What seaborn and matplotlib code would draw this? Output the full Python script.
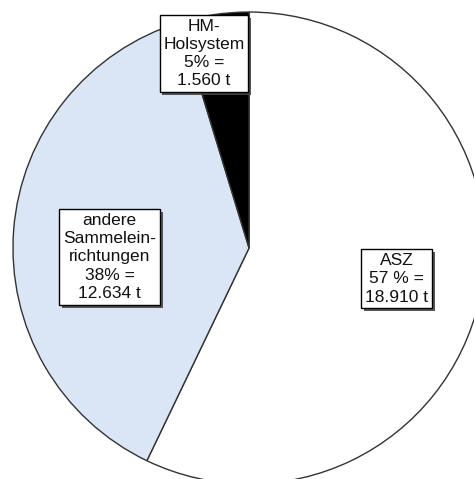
import matplotlib
matplotlib.use("Agg")
import matplotlib.pyplot as plt
import matplotlib.patheffects as pe
import seaborn as sns

# -----------------------------
# Data (tonnes)
# -----------------------------
categories = ["ASZ", "andere Sammeleinrichtungen", "HM-Holsystem"]
tonnes = [18910, 12634, 1560]
labels = ["ASZ\n57 % =\n18.910 t",
          "andere\nSammelein-\nrichtungen\n38% =\n12.634 t",
          "HM-\nHolsystem\n5% =\n1.560 t"]
colors = ["#ffffff", "#dae6f5", "#000000"]

# label box centres (pie units, radius = 1)
label_pos = [(0.625, -0.131), (-0.591, -0.038), (-0.191, 0.824)]

sns.set_style("white")
plt.rcParams["font.family"] = ["Liberation Sans", "DejaVu Sans"]

fig = plt.figure(figsize=(4.74, 4.79), dpi=100)
ax = fig.add_axes([0, 0, 1, 1])

ax.pie(tonnes, colors=colors, startangle=90, counterclock=False,
       radius=1.0,
       wedgeprops=dict(edgecolor="#333333", linewidth=1.0))

for (x, y), txt in zip(label_pos, labels):
    t = ax.text(x, y, txt, ha="center", va="center", fontsize=12.5,
                color="#111111", linespacing=1.27,
                bbox=dict(boxstyle="square,pad=0.22", facecolor="white",
                          edgecolor="black", linewidth=1.0))
    t.get_bbox_patch().set_path_effects([
        pe.SimplePatchShadow(offset=(2, -2), shadow_rgbFace="#444444", alpha=0.9),
        pe.Normal()])

ax.set_xlim(-1.055, 0.953)
ax.set_ylim(-0.979, 1.051)
ax.set_aspect("auto")
ax.axis("off")

plt.savefig("out.png", dpi=100)
